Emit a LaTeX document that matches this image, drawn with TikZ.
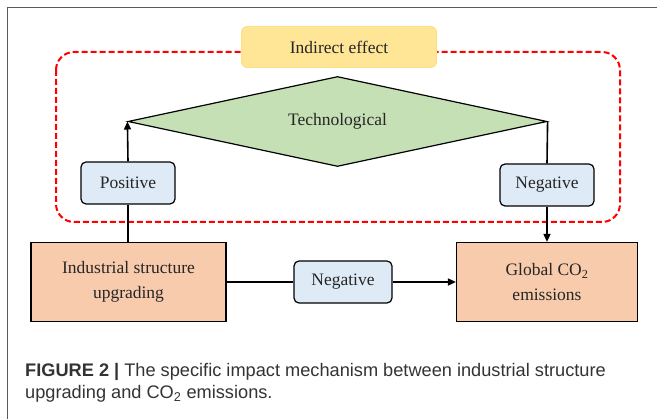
\documentclass[tikz,border=0pt]{standalone}
\usepackage{fontspec}
\setmainfont{Liberation Serif}
\newfontfamily\capfont{Liberation Sans}
\usetikzlibrary{shapes.geometric,arrows.meta}

\definecolor{effectyellow}{HTML}{FFE596}
\definecolor{effectedge}{HTML}{FCE08A}
\definecolor{techgreen}{HTML}{C5E0B4}
\definecolor{signblue}{HTML}{DEEBF7}
\definecolor{mainorange}{HTML}{F8CBAD}
\definecolor{framegray}{HTML}{5A5A5A}
\definecolor{captext}{HTML}{333333}

\tikzset{
  every node/.style={font=\fontsize{17.5}{25}\selectfont, text=black!85},
  signbox/.style={draw=black, line width=1.2pt, rounded corners=5pt, fill=signblue,
    minimum width=94pt, minimum height=42pt, inner sep=0pt},
  mainbox/.style={draw=black, line width=1.2pt, fill=mainorange, align=center,
    minimum width=195pt, minimum height=79pt, inner sep=0pt},
  link/.style={line width=1.6pt, black},
  arr/.style={link, -{Triangle[length=8pt,width=7pt]}}
}

\begin{document}
\begin{tikzpicture}[x=1pt,y=-1pt]
		\useasboundingbox (0,0) rectangle (657,419);
		\draw[framegray, line width=1pt] (7,419) -- (7,8) -- (657,8);
		
		% indirect part
		\draw[red, line width=2pt, dash pattern=on 6pt off 3pt, rounded corners=18pt] (56,52) rectangle (620,222);
		\node[draw=effectedge, line width=1pt, fill=effectyellow, rounded corners=6pt,
		  minimum width=195pt, minimum height=41pt, inner sep=0pt] (indirect) at (339,47) {Indirect effect};
		\node[diamond, aspect=4.66, draw=black, line width=1.2pt, fill=techgreen, inner sep=0pt,
		  minimum width=419pt, minimum height=90pt] (tech) at (337.5,121.5) {Technological};
		\node[signbox] (pos) at (128,183) {Positive};
		\node[signbox] (negr) at (547,185) {Negative};
		
		% direct part
		\node[mainbox] (ind) at (128.5,282) {Industrial structure\\upgrading};
		\node[mainbox, minimum width=181pt] (glob) at (547,282) {Global CO\textsubscript{2}\\emissions};
		\node[signbox, minimum width=98pt] (negm) at (343,282) {Negative};
		
		\draw[link] (ind.north -| pos) -- (pos.south);
		\draw[arr] (pos.north) -- (tech.west);
		\draw[link] (tech.east) -- (negr.north);
		\draw[arr] (negr.south) -- (glob.north -| negr);
		\draw[link] (ind) -- (negm);
		\draw[arr] (negm) -- (glob);
		
		% caption
		\node[anchor=base west, align=left, inner sep=0pt, text=captext,
		  font=\capfont\fontsize{18.2}{21.5}\selectfont] (caption) at (25,398.5)
		  {\textbf{FIGURE 2 |} The specific impact mechanism between industrial structure\\
		   upgrading and CO\textsubscript{2} emissions.};
		
	\end{tikzpicture}
\end{document}
